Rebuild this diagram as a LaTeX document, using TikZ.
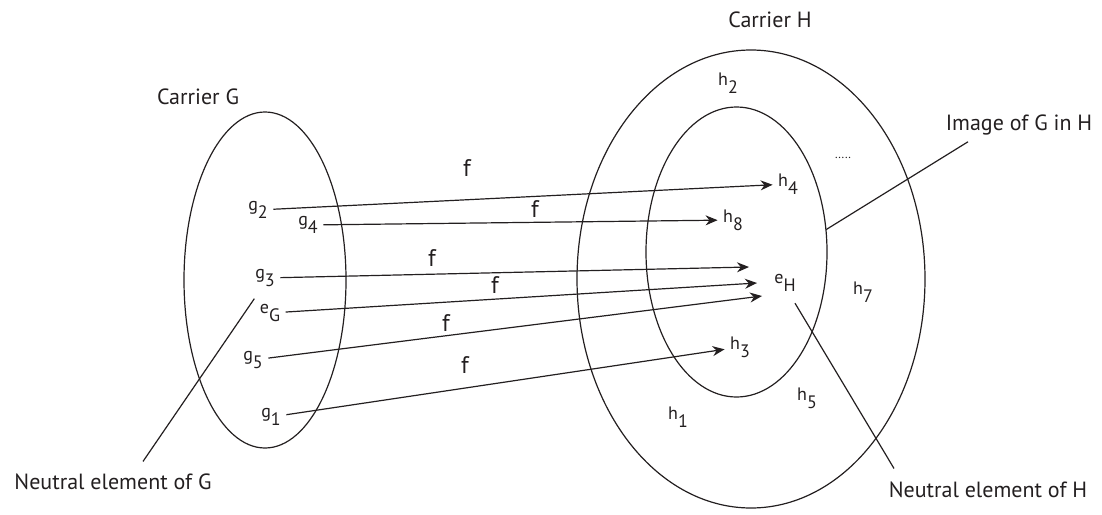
\documentclass[tikz,border=0pt]{standalone}
\usepackage{fontspec}
\setmainfont{PT Sans}
\usetikzlibrary{arrows.meta, shapes.geometric}
\definecolor{ink}{HTML}{231F20}
\newcommand{\elem}[2]{#1\raisebox{-4pt}{#2}}

\begin{document}
\begin{tikzpicture}[x=0.5pt, y=-0.5pt, line width=0.6pt, draw=ink, text=ink,
    lbl/.style={font=\fontsize{11}{13}\selectfont, inner sep=0pt},
    elt/.style={font=\fontsize{9}{10}\selectfont, inner sep=2.5pt},
    carrier/.style={draw, ellipse, inner sep=0pt, outer sep=0pt},
    map/.style={-{Stealth[length=6pt, width=5pt]}}]
  \useasboundingbox (0,0) rectangle (1102,514);

  % sets
  \node[carrier, minimum width=81pt, minimum height=168pt] (setG) at (265,280) {};
  \node[carrier, minimum width=174pt, minimum height=229pt] (setH) at (751,279) {};
  \node[carrier, minimum width=90.5pt, minimum height=145pt] (imgG) at (736.5,252) {};

  \node[lbl] (carrierG) at (198,97) {Carrier G};
  \node[lbl] (carrierH) at (770,20) {Carrier H};
  \node[lbl] (imageGH) at (1019,125) {Image of G in H};
  \node[lbl] (neutralG) at (113,482) {Neutral element of G};
  \node[lbl] (neutralH) at (988,490) {Neutral element of H};

  % elements
  \foreach \n/\x/\y/\s/\t in {g2/258/210/g/2, g4/308/225/g/4, g3/265/278/g/3,
      eG/270/313/e/G, g5/253/360/g/5, g1/271/417/g/1, h2/728/83/h/2,
      h4/788/184/h/4, h8/733/220/h/8, eH/785/283/e/H, h7/863/292/h/7,
      h3/740/347/h/3, h5/807/398/h/5, h1/678/417/h/1}
    \node[elt] (\n) at (\x,\y) {\elem{\s}{\t}};
  \node[font=\fontsize{6}{6}\selectfont, inner sep=0pt] (dots) at (843,158) {.....};

  \coordinate (eHa) at (749,267);
  \coordinate (eHb) at (757,283);
  \coordinate (eHc) at (762,296);

  % f arrows
  \foreach \a/\b in {g2/h4, g4/h8, g3/eHa, eG/eHb, g5/eHc, g1/h3}
    \draw[map] (\a) -- (\b);
  \foreach \x/\y [count=\i] in {467/168, 535/209, 432/258, 495/285, 446/323, 465/365}
    \node[font=\fontsize{12}{14}\selectfont, inner sep=0pt] (f\i) at (\x,\y) {f};

  % pointers
  \draw ([xshift=-25.5pt, yshift=-3pt]imageGH.south) -- (imgG.14);
  \draw ([xshift=15pt, yshift=6pt]neutralG.north) -- (eG.north west);
  \draw ([xshift=-47pt, yshift=6.5pt]neutralH.north) -- ([xshift=5pt, yshift=-3pt]eH.south);
\end{tikzpicture}
\end{document}
